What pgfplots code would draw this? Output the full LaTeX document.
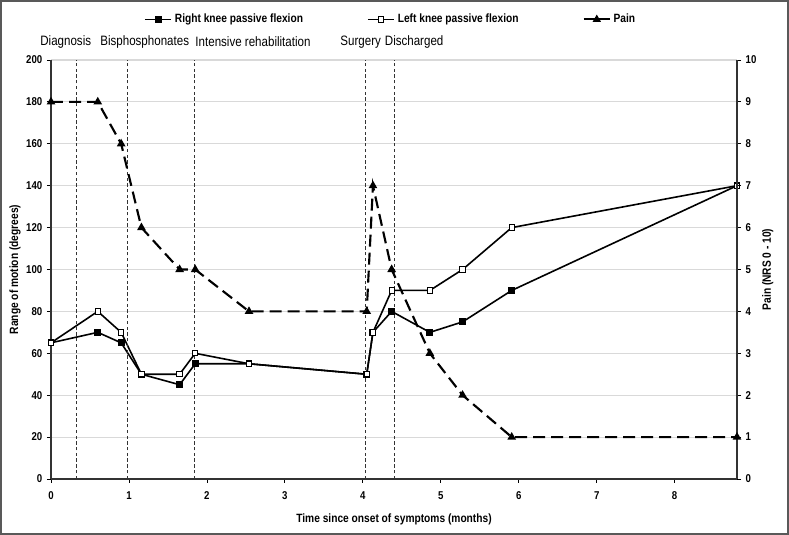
\documentclass[border=0pt]{standalone}
\usepackage{pgfplots}
\pgfplotsset{compat=1.18}
\usepackage{fontspec}
\setmainfont{Liberation Sans}[FakeStretch=0.85]

\pgfplotstableread{
x y
0.00 65
0.60 70
0.90 65
1.16 50
1.65 45
1.85 55
2.54 55
4.05 50
4.13 70
4.37 80
4.86 70
5.28 75
5.91 90
8.80 140
}\rightknee

\pgfplotstableread{
x y
0.00 65
0.60 80
0.90 70
1.16 50
1.65 50
1.85 60
2.54 55
4.05 50
4.13 70
4.37 90
4.86 90
5.28 100
5.91 120
8.80 140
}\leftknee

\pgfplotstableread{
x y
0.00 9
0.60 9
0.90 8
1.16 6
1.65 5
1.85 5
2.54 4
4.05 4
4.13 7
4.37 5
4.86 3
5.28 2
5.91 1
8.80 1
}\pain

\pgfplotsset{
  common/.style={
    width=514.5pt, height=314.25pt, scale only axis,
    xmin=0, xmax=8.8,
    tick align=outside, major tick length=3pt,
    tick style={black, line width=0.6pt},
    axis line style={black!80, line width=0.8pt},
    ticklabel style={font=\bfseries\fontsize{8.5}{10}\selectfont},
    /pgf/number format/assume math mode=true,
    label style={font=\bfseries\fontsize{9}{10.8}\selectfont},
  },
  legend image code/.code={
    \draw[mark repeat=2,mark phase=2] plot coordinates {(0cm,0cm)(0.35cm,0cm)(0.7cm,0cm)};
  },
}

\begin{document}
\begin{tikzpicture}
\begin{axis}[common, name=ax,
  ymin=0, ymax=200, ytick distance=20,
  xtick={0,1,...,8},
  axis x line*=bottom, axis y line*=left,
  ymajorgrids, major grid style={gray!30, line width=0.8pt},
  xlabel={Time since onset of symptoms (months)},
  ylabel={Range of motion (degrees)},
  xlabel style={at={(axis description cs:0.5,-0.0955)}, anchor=center},
  ylabel style={at={(axis description cs:-0.0525,0.5)}, anchor=center},
  xticklabel style={yshift=-3pt},
  clip=false,
  legend columns=3,
  legend style={at={(0.4956,1.097)}, anchor=center, draw=none, fill=none,
    font=\bfseries\fontsize{9}{10.8}\selectfont,
    /tikz/every even column/.append style={column sep=46pt}},
  legend cell align=left,
]
  \addplot[black, line width=1.2pt, mark=square*, mark size=2pt] table {\rightknee};
  \addlegendentry{Right knee passive flexion}
  \addplot[black, line width=1.2pt, mark=square*, mark size=2pt,
    mark options={fill=white, line width=0.7pt}] table {\leftknee};
  \addlegendentry{Left knee passive flexion}
  \addlegendimage{black, line width=1.4pt, mark=triangle*, mark size=2.2pt}
  \addlegendentry{Pain}

  \addplot[forget plot, black!80, line width=0.6pt, dash pattern=on 2.5pt off 1.8pt] coordinates {(0.32,0)(0.32,200)};
  \addplot[forget plot, black!80, line width=0.6pt, dash pattern=on 2.5pt off 1.8pt] coordinates {(0.98,0)(0.98,200)};
  \addplot[forget plot, black!80, line width=0.6pt, dash pattern=on 2.5pt off 1.8pt] coordinates {(1.84,0)(1.84,200)};
  \addplot[forget plot, black!80, line width=0.6pt, dash pattern=on 2.5pt off 1.8pt] coordinates {(4.03,0)(4.03,200)};
  \addplot[forget plot, black!80, line width=0.6pt, dash pattern=on 2.5pt off 1.8pt] coordinates {(4.41,0)(4.41,200)};

  \begin{scope}[every node/.style={anchor=west, inner sep=0pt, font=\fontsize{10.2}{12}\selectfont}]
    \node at (axis cs:-0.14,208.6) {Diagnosis};
    \node at (axis cs:0.63,208.6) {Bisphosphonates};
    \node at (axis cs:1.85,208.6) {Intensive rehabilitation};
    \node at (axis cs:3.71,208.6) {Surgery};
    \node at (axis cs:4.28,208.6) {Discharged};
  \end{scope}
\end{axis}

\begin{axis}[common,
  ymin=0, ymax=10, ytick distance=1,
  hide x axis, axis y line*=right,
  ylabel={Pain (NRS 0 - 10)},
  ylabel style={at={(axis description cs:1.045,0.5)}, anchor=center},
  clip=false,
]
  \addplot[black, line width=1.6pt, dash pattern=on 9pt off 4.5pt,
    mark=triangle*, mark size=2.2pt, mark options={solid}] table {\pain};
\end{axis}

\draw[black!65, line width=1.5pt] ([shift={(-37.5pt,-41.25pt)}]ax.south west) rectangle ([shift={(552.75pt,358.5pt)}]ax.south west);
\pgfresetboundingbox
\path[use as bounding box] ([shift={(-38.25pt,-42pt)}]ax.south west) rectangle ([shift={(553.5pt,359.25pt)}]ax.south west);
\end{tikzpicture}
\end{document}
